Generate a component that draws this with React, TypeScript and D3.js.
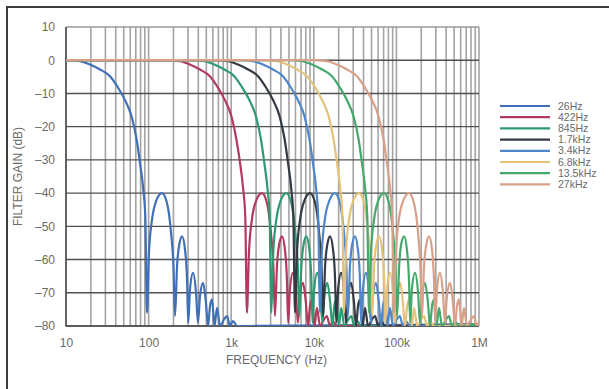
import React, { useEffect, useRef } from 'react';
import * as d3 from 'd3';

// legend labels and trace colours
const seriesNames = ['26Hz', '422Hz', '845Hz', '1.7kHz', '3.4kHz', '6.8kHz', '13.5kHz', '27kHz'];
const seriesColors = ['#3f6fb6', '#b23a5e', '#2f9a70', '#343a44', '#4f86c9', '#e4c27c', '#45a86c', '#d8a088'];

// gain (dB) at each traced point, same sequence along every response
const gainDb = [
    0, 0, -0.3, -1.3, -2.8, -4.8, -8.2, -12, -17, -24,
    -31, -39, -47, -76, -58, -48, -42.5, -40, -43, -52,
    -62, -77, -62, -55, -53, -57, -66, -79, -69, -64,
    -70, -79, -71, -67, -73, -80, -74, -72, -80, -74.5,
    -80, -78, -77, -80, -78.5, -80, -79.5,
];

// frequencies (Hz) of the traced points, one list per response
const freq26 = [
    10, 12, 14.8, 19.5, 25.8, 34.1, 42.6, 51.8, 62.4, 71.8,
    78.7, 86.3, 91.2, 95.6, 101, 110, 123, 145, 167, 187,
    200, 209, 221, 237, 254, 276, 292, 302, 317, 345,
    375, 396, 419, 456, 495, 524, 554, 586, 628, 673,
    732, 818, 890, 967, 1051, 1175, 1e6,
];
const freq422 = [
    10, 162, 240, 316, 418, 552, 690, 839, 1010, 1160,
    1280, 1400, 1480, 1550, 1640, 1780, 1990, 2350, 2710, 3030,
    3240, 3390, 3580, 3840, 4120, 4470, 4730, 4890, 5140, 5590,
    6080, 6420, 6790, 7390, 8020, 8490, 8980, 9490, 10200, 10900,
    11900, 13300, 14400, 15700, 17000, 19000, 1e6,
];
const freq845 = [
    10, 320, 474, 624, 826, 1090, 1360, 1660, 2000, 2300,
    2520, 2760, 2920, 3060, 3230, 3520, 3940, 4640, 5340, 5980,
    6400, 6690, 7070, 7580, 8130, 8830, 9340, 9660, 10100, 11000,
    12000, 12700, 13400, 14600, 15800, 16800, 17700, 18800, 20100, 21500,
    23400, 26200, 28500, 30900, 33600, 37600, 1e6,
];
const freq1k7 = [
    10, 620, 918, 1210, 1600, 2110, 2640, 3210, 3870, 4450,
    4880, 5350, 5650, 5930, 6260, 6820, 7630, 8990, 10400, 11600,
    12400, 13000, 13700, 14700, 15700, 17100, 18100, 18700, 19700, 21400,
    23300, 24600, 26000, 28300, 30700, 32500, 34300, 36300, 38900, 41700,
    45400, 50700, 55200, 60000, 65200, 72900, 1e6,
];
const freq3k4 = [
    10, 1240, 1840, 2420, 3200, 4230, 5280, 6420, 7740, 8900,
    9760, 10700, 11300, 11900, 12500, 13600, 15300, 18000, 20700, 23200,
    24800, 25900, 27400, 29400, 31500, 34200, 36200, 37400, 39300, 42800,
    46500, 49100, 52000, 56500, 61400, 65000, 68700, 72700, 77900, 83500,
    90800, 101000, 110000, 120000, 130000, 146000, 1e6,
];
const freq6k8 = [
    10, 2430, 3600, 4740, 6270, 8290, 10400, 12600, 15200, 17400,
    19100, 21000, 22200, 23200, 24500, 26700, 29900, 35200, 40600, 45400,
    48600, 50800, 53700, 57600, 61700, 67100, 71000, 73400, 77000, 83800,
    91100, 96200, 102000, 111000, 120000, 127000, 135000, 142000, 153000, 164000,
    178000, 199000, 216000, 235000, 255000, 286000, 1e6,
];
const freq13k5 = [
    10, 4870, 7210, 9500, 12600, 16600, 20700, 25200, 30400, 35000,
    38300, 42000, 44400, 46600, 49200, 53600, 59900, 70600, 81300, 91100,
    97400, 102000, 108000, 115000, 124000, 134000, 142000, 147000, 154000, 168000,
    183000, 193000, 204000, 222000, 241000, 255000, 270000, 285000, 306000, 328000,
    356000, 398000, 433000, 471000, 512000, 572000, 1e6,
];
const freq27k = [
    10, 9770, 14500, 19100, 25200, 33300, 41600, 50600, 61000, 70100,
    76900, 84300, 89100, 93400, 98700, 107000, 120000, 142000, 163000, 183000,
    195000, 204000, 216000, 232000, 248000, 270000, 285000, 295000, 310000, 337000,
    366000, 387000, 409000, 446000, 484000, 512000, 541000, 573000, 614000, 658000,
    715000, 799000, 870000, 945000, 1030000, 1150000, 1300000,
];

const seriesFreqs = [freq26, freq422, freq845, freq1k7, freq3k4, freq6k8, freq13k5, freq27k];

const xTickValues = [10, 100, 1e3, 1e4, 1e5, 1e6];
const xTickLabels = ['10', '100', '1k', '10k', '100k', '1M'];

const App = () => {
    const svgRef = useRef<SVGSVGElement>(null);

    useEffect(() => {
        const W = 609;
        const H = 389;
        const plot = { left: 66, right: 479, top: 27, bottom: 326 };
        const font = 'Arial, "Liberation Sans", Helvetica, sans-serif';
        const textColor = '#6a6a6a';

        const svg = d3.select(svgRef.current);
        svg.selectAll('*').remove();
        svg.attr('width', W).attr('height', H);

        svg.append('rect').attr('width', W).attr('height', H).attr('fill', '#fff');

        // outer frame (top and left only)
        svg.append('path')
            .attr('d', `M7,${H}V7H${W}`)
            .attr('fill', 'none')
            .attr('stroke', '#3c3c3c')
            .attr('stroke-width', 2);

        const x = d3.scaleLog().domain([10, 1e6]).range([plot.left, plot.right]);
        const y = d3.scaleLinear().domain([-80, 10]).range([plot.bottom, plot.top]);

        // vertical grid (1..9 per decade)
        svg.append('g')
            .selectAll('line')
            .data(x.ticks())
            .join('line')
            .attr('x1', (d) => x(d))
            .attr('x2', (d) => x(d))
            .attr('y1', plot.top)
            .attr('y2', plot.bottom)
            .attr('stroke', '#a4a4a4')
            .attr('stroke-width', 1.6);

        // horizontal grid every 10 dB
        svg.append('g')
            .selectAll('line')
            .data(d3.range(-80, 11, 10))
            .join('line')
            .attr('x1', plot.left)
            .attr('x2', plot.right)
            .attr('y1', (d) => y(d))
            .attr('y2', (d) => y(d))
            .attr('stroke', (d) => (d === 10 ? '#9a9a9a' : '#505050'))
            .attr('stroke-width', 1.4);

        // plot border left / bottom
        svg.append('path')
            .attr('d', `M${plot.left},${plot.top}V${plot.bottom}H${plot.right}`)
            .attr('fill', 'none')
            .attr('stroke', '#505050')
            .attr('stroke-width', 1.6);

        svg.append('clipPath')
            .attr('id', 'plot-clip')
            .append('rect')
            .attr('x', plot.left)
            .attr('y', plot.top - 2)
            .attr('width', plot.right - plot.left)
            .attr('height', plot.bottom - plot.top + 2);

        const line = d3.line<[number, number]>()
            .x((d) => x(d[0]))
            .y((d) => y(d[1]))
            .curve(d3.curveMonotoneX);

        const traces = svg.append('g').attr('clip-path', 'url(#plot-clip)');
        seriesFreqs.forEach((freqs, i) => {
            const pts = freqs.map((f, j) => [f, gainDb[j]] as [number, number]);
            traces.append('path')
                .datum(pts)
                .attr('fill', 'none')
                .attr('stroke', seriesColors[i])
                .attr('stroke-width', 2.2)
                .attr('stroke-linejoin', 'round')
                .attr('d', line);
        });

        // x axis labels
        const xAxis = svg.append('g')
            .attr('transform', `translate(0,${plot.bottom + 9})`)
            .call(
                d3.axisBottom(x)
                    .tickValues(xTickValues)
                    .tickFormat((_, i) => xTickLabels[i])
                    .tickSize(0)
            );
        xAxis.select('.domain').remove();
        xAxis.selectAll('text')
            .attr('fill', textColor)
            .style('font-family', font)
            .style('font-size', '12px');

        // y axis labels
        const yAxis = svg.append('g')
            .attr('transform', `translate(${plot.left - 8},0)`)
            .call(
                d3.axisLeft(y)
                    .tickValues(d3.range(-80, 11, 10))
                    .tickFormat((d) => (+d < 0 ? `\u2013${-d}` : `${d}`))
                    .tickSize(0)
            );
        yAxis.select('.domain').remove();
        yAxis.selectAll('text')
            .attr('fill', textColor)
            .style('font-family', font)
            .style('font-size', '12px');

        svg.append('text')
            .attr('x', (plot.left + plot.right) / 2 + 4)
            .attr('y', 364)
            .attr('text-anchor', 'middle')
            .attr('fill', textColor)
            .style('font-family', font)
            .style('font-size', '12px')
            .text('FREQUENCY (Hz)');

        svg.append('text')
            .attr('transform', `translate(22,${(plot.top + plot.bottom) / 2}) rotate(-90)`)
            .attr('text-anchor', 'middle')
            .attr('fill', textColor)
            .style('font-family', font)
            .style('font-size', '12px')
            .text('FILTER GAIN (dB)');

        // legend
        const legend = svg.append('g').attr('transform', 'translate(500,106)');
        seriesNames.forEach((name, i) => {
            const row = legend.append('g').attr('transform', `translate(0,${i * 11.2})`);
            row.append('line')
                .attr('x1', 0)
                .attr('x2', 50)
                .attr('stroke', seriesColors[i])
                .attr('stroke-width', 2.2);
            row.append('text')
                .attr('x', 58)
                .attr('dy', '0.35em')
                .attr('fill', textColor)
                .style('font-family', font)
                .style('font-size', '10.5px')
                .text(name);
        });
    }, []);

    return <svg ref={svgRef} style={{ position: 'absolute', left: 0, top: 0, display: 'block' }}></svg>;
};

export default App;
